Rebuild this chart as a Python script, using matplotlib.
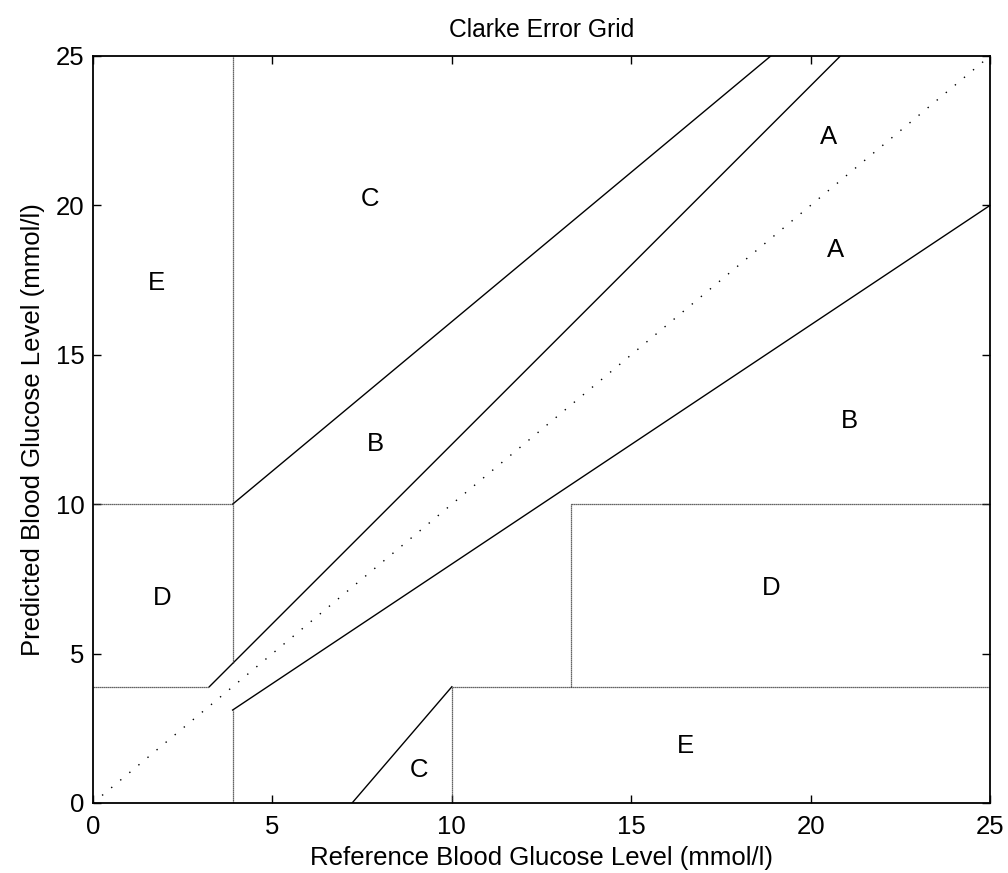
import matplotlib
matplotlib.use('Agg')
import matplotlib.pyplot as plt

plt.rcParams['font.family'] = ['Liberation Sans', 'DejaVu Sans']

# ---- data (mmol/l) ----
identity_x = [0, 25]
identity_y = [0, 25]

upper_a_x = [3.24, 20.83]
upper_a_y = [3.89, 25]
lower_a_x = [3.89, 25]
lower_a_y = [3.11, 20]
upper_c_x = [3.89, 18.89]
upper_c_y = [10, 25]
lower_c_x = [7.22, 10]
lower_c_y = [0, 3.89]

rect_segments_x = [
    [0, 3.24],
    [0, 3.89],
    [3.89, 3.89],
    [3.89, 3.89],
    [10, 10],
    [10, 25],
    [13.33, 13.33],
    [13.33, 25],
]
rect_segments_y = [
    [3.89, 3.89],
    [10, 10],
    [4.67, 25],
    [0, 3.11],
    [0, 3.89],
    [3.89, 3.89],
    [3.89, 10],
    [10, 10],
]

zone_labels = ['C', 'E', 'B', 'A', 'A', 'B', 'D', 'D', 'E', 'C']
zone_label_x = [7.72, 1.78, 7.86, 20.5, 20.7, 21.07, 1.92, 18.9, 16.5, 9.09]
zone_label_y = [20.2, 17.4, 12.0, 22.3, 18.5, 12.8, 6.86, 7.2, 1.9, 1.1]

ticks = [0, 5, 10, 15, 20, 25]

# ---- figure ----
fig = plt.figure(figsize=(10.08, 8.73), dpi=100)
ax = fig.add_axes([0.0923, 0.0802, 0.8899, 0.8557])

ax.plot(identity_x, identity_y, color='black', lw=1.0, linestyle=(0, (1, 7.5)))
for xs, ys in [(upper_a_x, upper_a_y), (lower_a_x, lower_a_y),
               (upper_c_x, upper_c_y), (lower_c_x, lower_c_y)]:
    ax.plot(xs, ys, color='black', lw=1.0)
for xs, ys in zip(rect_segments_x, rect_segments_y):
    ax.plot(xs, ys, color='0.2', lw=0.9, linestyle=(0, (1, 0.6)))

for lab, x, y in zip(zone_labels, zone_label_x, zone_label_y):
    ax.text(x, y, lab, ha='center', va='center', fontsize=18.5)

ax.set_xlim(0, 25)
ax.set_ylim(0, 25)
ax.set_xticks(ticks)
ax.set_yticks(ticks)
ax.tick_params(direction='in', top=True, right=True, length=6, width=1.0,
               labelsize=18.5)
ax.tick_params(axis='x', pad=9)
ax.tick_params(axis='y', pad=6)
for s in ax.spines.values():
    s.set_linewidth(1.3)

ax.set_title('Clarke Error Grid', fontsize=17.7, pad=14)
ax.set_xlabel('Reference Blood Glucose Level (mmol/l)', fontsize=18.5, labelpad=5)
ax.set_ylabel('Predicted Blood Glucose Level (mmol/l)', fontsize=18.5, labelpad=8)

fig.savefig('out.png', dpi=100)
